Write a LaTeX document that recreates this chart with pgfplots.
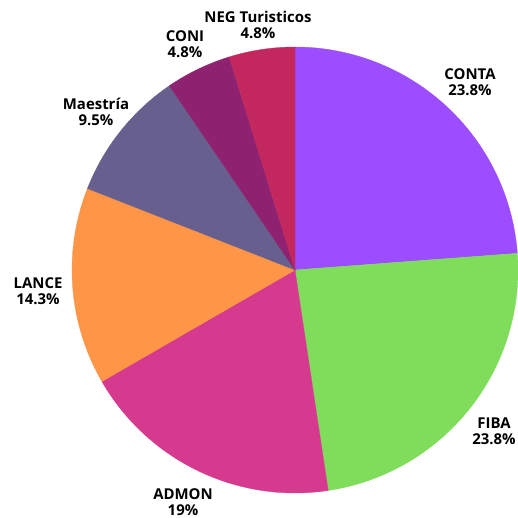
\documentclass[border=0pt]{standalone}
\usepackage{pgfplots}
\usepackage{pgfplotstable}
\pgfplotsset{compat=1.18}
\usepackage{fontspec}
\setmainfont{Open Sans}
\definecolor{c0}{HTML}{9B4DFF}
\definecolor{c1}{HTML}{80DD5C}
\definecolor{c2}{HTML}{D63A8F}
\definecolor{c3}{HTML}{FF9547}
\definecolor{c4}{HTML}{67608F}
\definecolor{c5}{HTML}{8E2170}
\definecolor{c6}{HTML}{C2285D}
\pgfplotstableread{
label value
CONTA 5
FIBA 5
ADMON 4
LANCE 3
Maestria 2
CONI 1
NEG 1
}\piedata
\def\cum{0}
\pgfplotsforeachungrouped \i in {0,...,6}{%
  \pgfplotstablegetelem{\i}{value}\of\piedata
  \pgfmathsetmacro\sa{90-360*\cum/21}%
  \pgfmathsetmacro\newcum{\cum+\pgfplotsretval}%
  \pgfmathsetmacro\ea{90-360*\newcum/21}%
  \expandafter\xdef\csname sa\i\endcsname{\sa}%
  \expandafter\xdef\csname ea\i\endcsname{\ea}%
  \xdef\cum{\newcum}%
}
\begin{document}
\begin{tikzpicture}
\begin{axis}[
  scale only axis, width=518bp, height=518bp,
  xmin=0, xmax=518, ymin=0, ymax=518,
  hide axis, clip=true,
]
\pgfplotsinvokeforeach{0,...,6}{
  \addplot[fill=c#1, draw=c#1, line width=0.3pt, domain=\csname ea#1\endcsname:\csname sa#1\endcsname, samples=120, variable=\t]
    ({295+223*cos(t)},{248+223*sin(t)}) -- (axis cs:295,248) -- cycle;
}
\tikzset{lab/.style={font=\bfseries\fontsize{15}{16.5}\selectfont, align=center, text=black, inner sep=0pt}}
\node[lab] at (axis cs:470,436) {CONTA\\23.8\%};
\node[lab] at (axis cs:494,87) {FIBA\\23.8\%};
\node[lab] at (axis cs:183,16) {ADMON\\19\%};
\node[lab] at (axis cs:38,227) {LANCE\\14.3\%};
\node[lab] at (axis cs:96,406) {Maestría\\9.5\%};
\node[lab] at (axis cs:185,474) {CONI\\4.8\%};
\node[lab] at (axis cs:258,493) {NEG Turisticos\\4.8\%};
\end{axis}
\pgfresetboundingbox
\path[use as bounding box] (current axis.south west) rectangle (current axis.north east);
\end{tikzpicture}
\end{document}
